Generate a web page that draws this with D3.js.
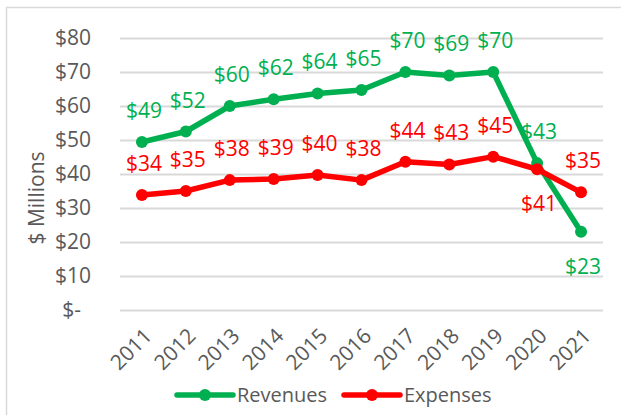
<!DOCTYPE html>
<html>
<head>
<meta charset="utf-8">
<script src="https://cdn.jsdelivr.net/npm/d3@7"></script>
<style>
  body { margin: 0; background: #fff; }
  text { font-family: "Open Sans", sans-serif; }
</style>
</head>
<body>
<svg id="chart"></svg>
<script>
const years = ["2011", "2012", "2013", "2014", "2015", "2016", "2017", "2018", "2019", "2020", "2021"];
const revenues = [49.4, 52.5, 60, 62, 63.7, 64.7, 70, 69, 70, 43.2, 23];
const expenses = [33.8, 35, 38.2, 38.5, 39.7, 38.2, 43.6, 42.8, 45.1, 41.4, 34.6];
const revenueLabels = ["$49", "$52", "$60", "$62", "$64", "$65", "$70", "$69", "$70", "$43", "$23"];
const expenseLabels = ["$34", "$35", "$38", "$39", "$40", "$38", "$44", "$43", "$45", "$41", "$35"];
const yTicks = [0, 10, 20, 30, 40, 50, 60, 70, 80];

const width = 621, height = 415;
const margin = { top: 38, right: 18, bottom: 105, left: 120 };

const svg = d3.select("#chart").attr("width", width).attr("height", height);

// outer chart border
svg.append("rect")
    .attr("x", 6.5).attr("y", 7.5)
    .attr("width", 630).attr("height", 430)
    .attr("fill", "none")
    .attr("stroke", "#d9d9d9")
    .attr("stroke-width", 1.5);

const x = d3.scaleBand().domain(years).range([margin.left, width - margin.right]);
const y = d3.scaleLinear().domain([0, 80]).range([height - margin.bottom, margin.top]);
const cx = d => x(d) + x.bandwidth() / 2;

// grid lines + y labels
svg.append("g")
    .attr("transform", `translate(${margin.left},0)`)
    .call(d3.axisLeft(y).tickValues(yTicks).tickSize(-(width - margin.left - margin.right)).tickPadding(29)
        .tickFormat(d => d === 0 ? "$-" : "$" + d))
    .call(g => g.select(".domain").remove())
    .call(g => g.selectAll(".tick line").attr("stroke", "#d9d9d9").attr("stroke-width", 2))
    .call(g => g.selectAll(".tick text")
        .attr("fill", "#595959")
        .attr("font-size", "21px")
        .attr("dx", d => d === 0 ? -10 : 0));

// x labels
svg.append("g")
    .selectAll("text")
    .data(years)
    .join("text")
    .attr("transform", d => `translate(${cx(d) + 6},${y(0) + 22}) rotate(-45)`)
    .attr("text-anchor", "end")
    .attr("dy", "0.35em")
    .attr("fill", "#595959")
    .attr("font-size", "21px")
    .text(d => d);

// y title
svg.append("text")
    .attr("transform", "translate(44,198) rotate(-90)")
    .attr("text-anchor", "middle")
    .attr("fill", "#595959")
    .attr("font-size", "21px")
    .text("$ Millions");

const series = [
    { name: "Revenues", values: revenues, labels: revenueLabels, color: "#00b050", below: [10] },
    { name: "Expenses", values: expenses, labels: expenseLabels, color: "#ff0000", below: [9] }
];

const line = d3.line().x((d, i) => cx(years[i])).y(d => y(d));

series.forEach(s => {
    svg.append("path")
        .datum(s.values)
        .attr("d", line)
        .attr("fill", "none")
        .attr("stroke", s.color)
        .attr("stroke-width", 5.5)
        .attr("stroke-linejoin", "round");

    svg.append("g")
        .selectAll("circle")
        .data(s.values)
        .join("circle")
        .attr("cx", (d, i) => cx(years[i]))
        .attr("cy", d => y(d))
        .attr("r", 6)
        .attr("fill", s.color);

    svg.append("g")
        .selectAll("text")
        .data(s.values)
        .join("text")
        .attr("x", (d, i) => cx(years[i]) + 2)
        .attr("y", (d, i) => s.below.includes(i) ? y(d) + 42 : y(d) - 24)
        .attr("text-anchor", "middle")
        .attr("fill", s.color)
        .attr("font-size", "21px")
        .text((d, i) => s.labels[i]);
});

// legend
const legendItems = [
    { name: "Revenues", color: "#00b050", x: 177 },
    { name: "Expenses", color: "#ff0000", x: 344 }
];
const legend = svg.append("g").selectAll("g")
    .data(legendItems)
    .join("g")
    .attr("transform", d => `translate(${d.x},395)`);
legend.append("line")
    .attr("x1", 0).attr("x2", 56)
    .attr("stroke", d => d.color)
    .attr("stroke-width", 5.5)
    .attr("stroke-linecap", "round");
legend.append("circle")
    .attr("cx", 28).attr("r", 6)
    .attr("fill", d => d.color);
legend.append("text")
    .attr("x", 60).attr("y", 7)
    .attr("fill", "#595959")
    .attr("font-size", "20px")
    .text(d => d.name);
</script>
</body>
</html>
